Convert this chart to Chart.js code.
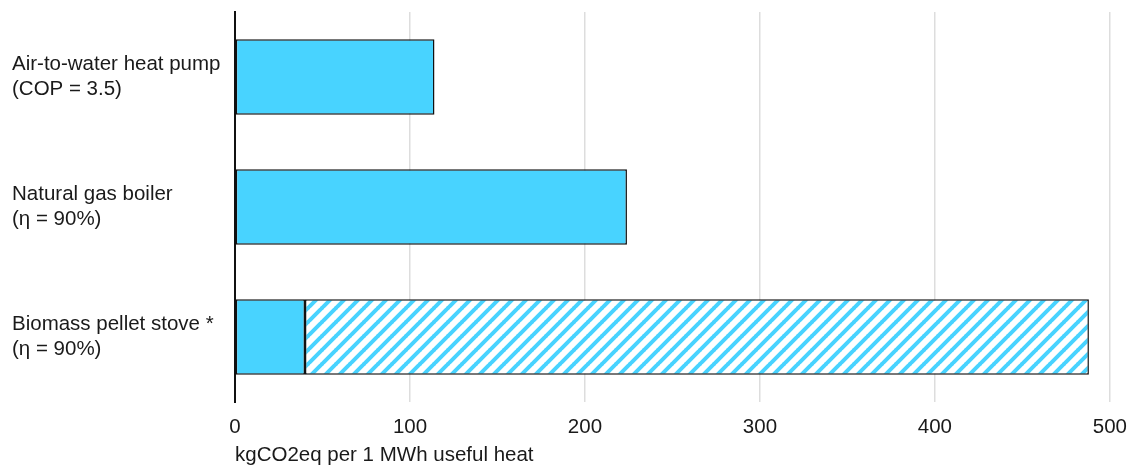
<!DOCTYPE html>
<html lang="en">
<head>
  <meta charset="UTF-8">
  <title>Heating emissions</title>
  <style>
    html, body { margin: 0; padding: 0; background: #fff; }
    #wrap { width: 1140px; height: 466px; }
  </style>
</head>
<body>
  <div id="wrap"><canvas id="chart"></canvas></div>

  <script src="https://cdn.jsdelivr.net/npm/chart.js"></script>
  <script>
    // data
    const categories = [
      ["Air-to-water heat pump", "(COP = 3.5)"],
      ["Natural gas boiler", "(η = 90%)"],
      ["Biomass pellet stove *", "(η = 90%)"]
    ];
    const solidValues = [114, 224, 40];
    const hatchedValues = [null, null, 448];
    const xTicks = [0, 100, 200, 300, 400, 500];
    const xTitle = "kgCO2eq per 1 MWh useful heat";

    const blue = "#48d3ff";
    const fontFamily = "'Liberation Sans', Arial, sans-serif";
    const fontSize = 20.5;

    // diagonal stripe pattern for the hatched part
    function makeHatch() {
      const s = 14;
      const c = document.createElement("canvas");
      c.width = s; c.height = s;
      const g = c.getContext("2d");
      g.fillStyle = "#fff";
      g.fillRect(0, 0, s, s);
      g.strokeStyle = blue;
      g.lineWidth = 4;
      g.beginPath();
      g.moveTo(-1, 1); g.lineTo(1, -1);
      g.moveTo(0, s); g.lineTo(s, 0);
      g.moveTo(s - 1, s + 1); g.lineTo(s + 1, s - 1);
      g.stroke();
      return g.createPattern(c, "repeat");
    }

    new Chart(document.getElementById("chart"), {
      type: "bar",
      data: {
        labels: categories,
        datasets: [
          {
            label: "solid",
            data: solidValues,
            backgroundColor: blue,
            borderColor: "#111",
            borderWidth: 1.5,
            borderSkipped: false
          },
          {
            label: "hatched",
            data: hatchedValues,
            backgroundColor: makeHatch(),
            borderColor: "#111",
            borderWidth: 1.5,
            borderSkipped: false
          }
        ]
      },
      options: {
        indexAxis: "y",
        responsive: true,
        maintainAspectRatio: false,
        animation: false,
        categoryPercentage: 1,
        barPercentage: 0.58,
        layout: { padding: { left: 12, right: 25, top: 12, bottom: 0 } },
        plugins: {
          legend: { display: false },
          tooltip: { enabled: false }
        },
        scales: {
          x: {
            stacked: true,
            min: 0,
            max: 500,
            afterBuildTicks: (axis) => { axis.ticks = xTicks.map(v => ({ value: v })); },
            afterFit: (axis) => { axis.height = 64; },
            grid: { color: "#dddddd", lineWidth: 1.5, drawTicks: false },
            border: { display: false },
            ticks: {
              padding: 13,
              color: "#1a1a1a",
              font: { family: fontFamily, size: fontSize }
            },
            title: {
              display: true,
              text: xTitle,
              align: "start",
              color: "#1a1a1a",
              padding: 0,
              font: { family: fontFamily, size: fontSize, lineHeight: 1 }
            }
          },
          y: {
            stacked: true,
            afterFit: (axis) => {
              axis.width = 223;
              axis.paddingTop = 0;
              axis.paddingBottom = 0;
            },
            grid: { display: false },
            border: { display: true, color: "#111", width: 2 },
            ticks: {
              crossAlign: "far",
              color: "#1a1a1a",
              font: { family: fontFamily, size: fontSize, lineHeight: 1.2 }
            }
          }
        }
      }
    });
  </script>
</body>
</html>
